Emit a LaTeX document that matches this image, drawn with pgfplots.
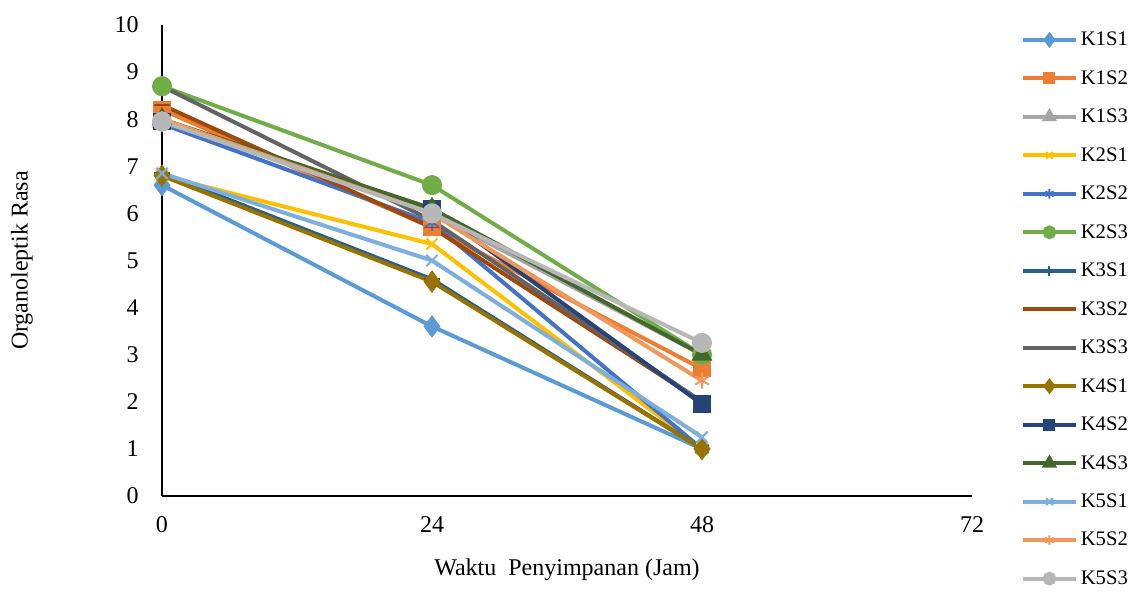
\documentclass[border=0pt]{standalone}
\usepackage{pgfplots}
\pgfplotsset{compat=1.18}
\usepackage{fontspec}
\setmainfont{Liberation Serif}
\definecolor{c1}{HTML}{5B9BD5}
\definecolor{c2}{HTML}{ED7D31}
\definecolor{c3}{HTML}{A5A5A5}
\definecolor{c4}{HTML}{FFC000}
\definecolor{c5}{HTML}{4472C4}
\definecolor{c6}{HTML}{70AD47}
\definecolor{c7}{HTML}{255E91}
\definecolor{c8}{HTML}{9E480E}
\definecolor{c9}{HTML}{636363}
\definecolor{c10}{HTML}{997300}
\definecolor{c11}{HTML}{264478}
\definecolor{c12}{HTML}{43682B}
\definecolor{c13}{HTML}{7CAFDD}
\definecolor{c14}{HTML}{F1975A}
\definecolor{c15}{HTML}{B7B7B7}
\begin{document}
\begin{tikzpicture}
\useasboundingbox (0,0) rectangle (849.75pt,444pt);
\begin{axis}[
  scale only axis,
  width=607.5pt, height=353.25pt,
  at={(121.5pt,72pt)}, anchor=south west,
  xmin=0, xmax=72, ymin=0, ymax=10,
  axis lines=left,
  axis line style={black, line width=1pt, -},
  xtick={0,24,48,72}, ytick={0,1,...,10},
  major tick length=0pt,
  tick label style={font=\fontsize{18pt}{20pt}\selectfont},
  /pgf/number format/assume math mode=true,
  yticklabel style={xshift=-14pt},
  xticklabel style={yshift=-12pt},
  xlabel={Waktu\ \ Penyimpanan (Jam)},
  ylabel={Organoleptik Rasa},
  label style={font=\fontsize{18pt}{20pt}\selectfont},
  xlabel style={at={(axis description cs:0.5,-0.157)}, anchor=center},
  ylabel style={at={(axis description cs:-0.173,0.5)}, anchor=center},
  clip=false,
  legend style={at={(1.055,0.997)}, anchor=north west, draw=none,
    font=\fontsize{15.5pt}{17pt}\selectfont, row sep=13.1pt,
    legend cell align=left},
  legend image code/.code={\draw[mark repeat=2,mark phase=2, every mark/.append style={scale=0.6}] plot coordinates {(0pt,0pt) (20pt,0pt) (40pt,0pt)};},
  every axis plot/.append style={line width=3pt, mark size=5pt, mark options={solid, line width=1pt}},
]
\addplot[c1, mark=diamond*, mark options={fill=c1}, mark size=6pt] coordinates {(0,6.6) (24,3.6) (48,1.0)};
\addlegendentry{K1S1}
\addplot[c2, mark=square*, mark options={fill=c2}] coordinates {(0,8.2) (24,5.7) (48,2.7)};
\addlegendentry{K1S2}
\addplot[c3, mark=triangle*, mark options={fill=c3}, mark size=6pt] coordinates {(0,7.95) (24,6.0) (48,3.0)};
\addlegendentry{K1S3}
\addplot[c4, mark=x, mark size=6pt, mark options={line width=1.5pt}] coordinates {(0,6.8) (24,5.35) (48,1.0)};
\addlegendentry{K2S1}
\addplot[c5, mark=asterisk, mark size=6pt, mark options={line width=1.5pt}] coordinates {(0,7.9) (24,5.8) (48,1.0)};
\addlegendentry{K2S2}
\addplot[c6, mark=*, mark options={fill=c6}, mark size=6pt] coordinates {(0,8.7) (24,6.6) (48,3.0)};
\addlegendentry{K2S3}
\addplot[c7, mark=+, mark size=6pt, mark options={line width=1.5pt}] coordinates {(0,6.85) (24,4.6) (48,1.0)};
\addlegendentry{K3S1}
\addplot[c8, mark=-, mark size=6pt] coordinates {(0,8.3) (24,5.7) (48,2.0)};
\addlegendentry{K3S2}
\addplot[c9, mark=none] coordinates {(0,8.7) (24,5.85) (48,2.0)};
\addlegendentry{K3S3}
\addplot[c10, mark=diamond*, mark options={fill=c10}, mark size=6pt] coordinates {(0,6.8) (24,4.55) (48,1.0)};
\addlegendentry{K4S1}
\addplot[c11, mark=square*, mark options={fill=c11}] coordinates {(0,7.95) (24,6.1) (48,1.95)};
\addlegendentry{K4S2}
\addplot[c12, mark=triangle*, mark options={fill=c12}, mark size=6pt] coordinates {(0,8.0) (24,6.1) (48,3.0)};
\addlegendentry{K4S3}
\addplot[c13, mark=x, mark size=6pt, mark options={line width=1.5pt}] coordinates {(0,6.85) (24,5.0) (48,1.25)};
\addlegendentry{K5S1}
\addplot[c14, mark=asterisk, mark size=6pt, mark options={line width=1.5pt}] coordinates {(0,8.0) (24,6.0) (48,2.45)};
\addlegendentry{K5S2}
\addplot[c15, mark=*, mark options={fill=c15}, mark size=6pt] coordinates {(0,7.95) (24,6.0) (48,3.25)};
\addlegendentry{K5S3}
\end{axis}
\end{tikzpicture}
\end{document}
